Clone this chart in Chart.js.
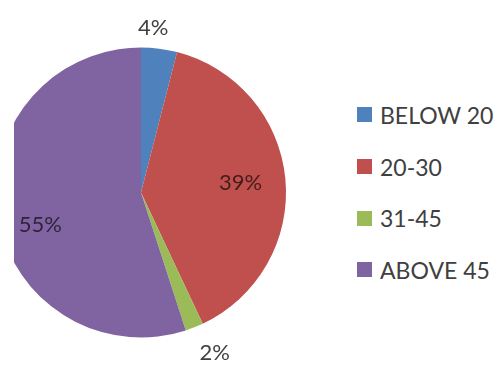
<!DOCTYPE html>
<html>
<head>
<meta charset="utf-8">
<script src="https://cdn.jsdelivr.net/npm/chart.js@4.4.1/dist/chart.umd.min.js"></script>
<style>
  html, body { margin: 0; padding: 0; background: #fff; }
  #page { position: relative; width: 502px; height: 365px; overflow: hidden; background: #fff; }
  #pieBox { position: absolute; left: 14px; top: 0; width: 290px; height: 365px; overflow: hidden; }
  #pie { position: absolute; left: -18px; top: 0; }
  #legend { position: absolute; left: 357px; top: 89px; font-family: Lato, "Open Sans", sans-serif; font-size: 23px; color: #404040; }
  #legend .row { height: 51.7px; display: flex; align-items: center; white-space: nowrap; }
  #legend .box { width: 15px; height: 15px; margin-right: 8px; flex: none; }
</style>
</head>
<body>
<div id="page">
  <div id="pieBox"><canvas id="pie" width="300" height="365"></canvas></div>
  <div id="legend"></div>
</div>
<script>
var categories = ['BELOW 20', '20-30', '31-45', 'ABOVE 45'];
var shares = [4, 39, 2, 55];
var sliceColors = ['#4f81bd', '#c0504d', '#9bbb59', '#8064a2'];

// where each percentage label sits: distance in radii, turn in degrees
var labelSpots = [
  {dist: 1.14, turn: -3, color: '#404040'},
  {dist: 0.69, turn: 0, color: 'rgba(0,0,0,0.65)'},
  {dist: 1.22, turn: -3, color: '#404040'},
  {dist: 0.73, turn: -9, color: 'rgba(0,0,0,0.65)'}
];

var pctLabels = {
  id: 'pctLabels',
  afterDatasetsDraw: function (chart) {
    var ctx = chart.ctx;
    var meta = chart.getDatasetMeta(0);
    var values = chart.data.datasets[0].data;
    var total = values.reduce(function (a, b) { return a + b; }, 0);
    ctx.save();
    ctx.font = '22px Lato, "Open Sans", sans-serif';
    ctx.textAlign = 'center';
    ctx.textBaseline = 'middle';
    meta.data.forEach(function (arc, i) {
      var p = arc.getProps(['x', 'y', 'startAngle', 'endAngle', 'outerRadius'], true);
      var spot = labelSpots[i];
      var mid = (p.startAngle + p.endAngle) / 2 + spot.turn * Math.PI / 180;
      var r = p.outerRadius * spot.dist;
      ctx.fillStyle = spot.color;
      ctx.fillText(Math.round(values[i] / total * 100) + '%', p.x + Math.cos(mid) * r, p.y + Math.sin(mid) * r);
    });
    ctx.restore();
  }
};

var chart = new Chart(document.getElementById('pie').getContext('2d'), {
  type: 'pie',
  data: {
    labels: categories,
    datasets: [{
      data: shares,
      backgroundColor: sliceColors,
      borderWidth: 0
    }]
  },
  options: {
    responsive: false,
    animation: false,
    events: [],
    layout: { padding: { left: 0, right: 10, top: 47.5, bottom: 27.5 } },
    plugins: {
      legend: { display: false },
      tooltip: { enabled: false }
    }
  },
  plugins: [pctLabels]
});

var legend = document.getElementById('legend');
categories.forEach(function (name, i) {
  var row = document.createElement('div');
  row.className = 'row';
  var box = document.createElement('span');
  box.className = 'box';
  box.style.background = sliceColors[i];
  var txt = document.createElement('span');
  txt.textContent = name;
  row.appendChild(box);
  row.appendChild(txt);
  legend.appendChild(row);
});
</script>
</body>
</html>
